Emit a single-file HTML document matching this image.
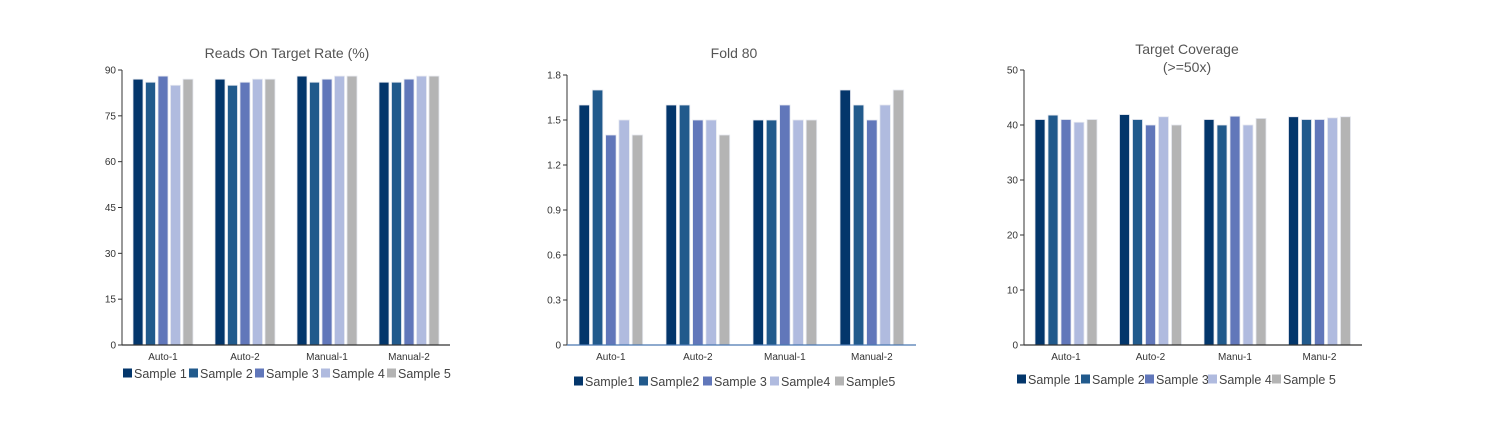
<!DOCTYPE html>
<html><head><meta charset="utf-8"><style>
body{margin:0;background:#fff;width:1500px;height:438px;overflow:hidden}
svg{position:absolute;left:0;top:0}
text{font-family:"Liberation Sans",sans-serif}
</style></head><body>
<svg id="s" width="1500" height="438" xmlns="http://www.w3.org/2000/svg"></svg>
<script>
const C=["#03366b","#215a8c","#6177ba","#b0bbdf","#b4b4b4"];
const charts=[
 {x0:122,x1:450,y0:345,yt:70,max:90,ticks:[0,15,30,45,60,75,90],fmt:v=>v,first:133,bw:10,gap:2.5,step:82,
  cats:["Auto-1","Auto-2","Manual-1","Manual-2"],
  data:[[87,86,88,85,87],[87,85,86,87,87],[88,86,87,88,88],[86,86,87,88,88]],
  title:["Reads On Target Rate (%)"],ty:[58],tx:287,base:"#333",
  leg:["Sample 1","Sample 2","Sample 3","Sample 4","Sample 5"],ly:378,lxs:[123,189,255,321,387]},
 {x0:567,x1:916,y0:345,yt:75,max:1.8,ticks:[0,0.3,0.6,0.9,1.2,1.5,1.8],fmt:v=>v.toFixed(1).replace(/^0\.0$/,"0"),first:579,bw:10.5,gap:2.8,step:87,
  cats:["Auto-1","Auto-2","Manual-1","Manual-2"],
  data:[[1.6,1.7,1.4,1.5,1.4],[1.6,1.6,1.5,1.5,1.4],[1.5,1.5,1.6,1.5,1.5],[1.7,1.6,1.5,1.6,1.7]],
  title:["Fold 80"],ty:[58],tx:734,base:"#4a78b0",
  leg:["Sample1","Sample2","Sample 3","Sample4","Sample5"],ly:386,lxs:[574,639,703,770,835]},
 {x0:1024,x1:1362,y0:345,yt:70,max:50,ticks:[0,10,20,30,40,50],fmt:v=>v,first:1035,bw:10,gap:3,step:84.5,
  cats:["Auto-1","Auto-2","Manu-1","Manu-2"],
  data:[[41,41.8,41,40.5,41],[41.9,41,40,41.5,40],[41,40,41.6,40,41.2],[41.5,41,41,41.3,41.5]],
  title:["Target Coverage","(>=50x)"],ty:[54,72],tx:1187,base:"#333",
  leg:["Sample 1","Sample 2","Sample 3","Sample 4","Sample 5"],ly:384,lxs:[1017,1081,1145,1208,1272]}
];
let h="";
for(const c of charts){
 const sc=(c.y0-c.yt)/c.max;
 c.title.forEach((t,i)=>h+=`<text x="${c.tx}" y="${c.ty[i]}" text-anchor="middle" font-size="14" fill="#555">${t}</text>`);
 for(const t of c.ticks){const y=c.y0-t*sc;
  h+=`<line x1="${c.x0-4}" x2="${c.x0}" y1="${y}" y2="${y}" stroke="#333"/>`;
  h+=`<text x="${c.x0-6}" y="${y+3.5}" text-anchor="end" font-size="10" fill="#333">${c.fmt(t)}</text>`;}
 c.data.forEach((g,gi)=>{
  g.forEach((v,i)=>{const x=c.first+gi*c.step+i*(c.bw+c.gap);const y=c.y0-v*sc;
   h+=`<rect x="${x}" y="${y}" width="${c.bw}" height="${c.y0-y}" fill="${C[i]}" stroke="#e6e9f0" stroke-width="0.8"/>`;});
  const cx=c.first+gi*c.step+(5*c.bw+4*c.gap)/2;
  h+=`<text x="${cx}" y="360" text-anchor="middle" font-size="10" fill="#333">${c.cats[gi]}</text>`;
 });
 h+=`<line x1="${c.x0}" x2="${c.x0}" y1="${c.yt}" y2="${c.y0}" stroke="#333"/>`;
 h+=`<line x1="${c.x0}" x2="${c.x1}" y1="${c.y0}" y2="${c.y0}" stroke="${c.base}" stroke-width="1.3"/>`;
 c.leg.forEach((l,i)=>{const x=c.lxs[i];
  h+=`<rect x="${x}" y="${c.ly-9.5}" width="9" height="9" fill="${C[i]}"/>`;
  h+=`<text x="${x+11}" y="${c.ly}" font-size="12.5" fill="#444">${l}</text>`;
 });
}
document.getElementById("s").innerHTML=h;
</script>
</body></html>
